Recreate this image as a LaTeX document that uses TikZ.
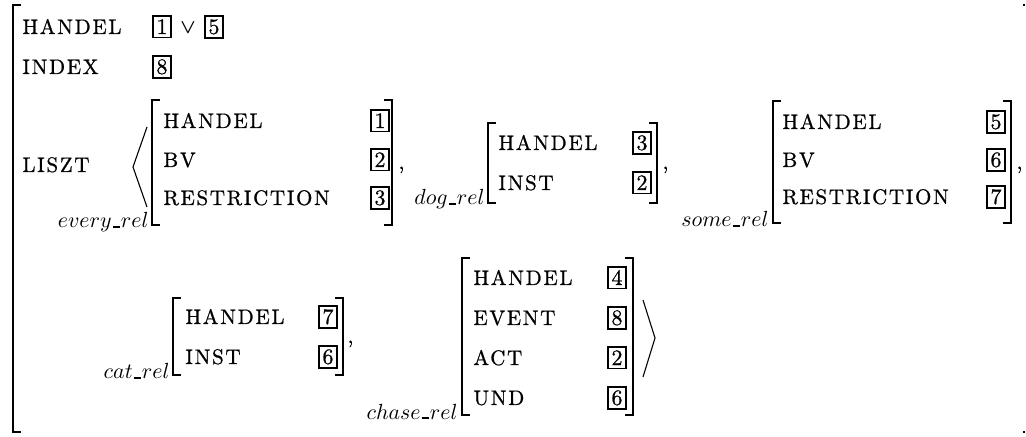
\documentclass[tikz,border=0pt]{standalone}
\usepackage{fontspec}
\newfontfamily\attrfont{lmroman10-regular.otf}[Scale=1.05, LetterSpace=8, FakeBold=0.8]
\newfontfamily\tagfont{lmroman10-regular.otf}[Scale=1.1, FakeBold=0.8]
\usepackage{amsmath}
\newcommand\undash{\mbox{\kern.05em\rule{.32em}{.9pt}\kern.05em}}
\begin{document}
\begin{tikzpicture}[x=.5pt, y=-.5pt,
  attr/.style={anchor=base west, inner sep=0, font=\attrfont},
  tag/.style={draw, line width=.85pt, anchor=base, inner sep=1.7pt, font=\tagfont},
  rel/.style={anchor=base east, inner sep=0, font=\fontsize{11}{13}\selectfont},
  punct/.style={anchor=base west, inner sep=0, font=\tagfont},
  brk/.style={line width=.9pt},
  ang/.style={line width=.55pt}]
\useasboundingbox (0,0) rectangle (1026,437);
\draw[brk] (21,5) -| (13,432) -- ++(8,0);
\fill (1023,4) rectangle (1025,6);
\fill (1023,431) rectangle (1025,433);
\node[attr] (handel) at (22,34) {HANDEL};
\node[tag] (t1) at (162,34) {1};
\node[punct, anchor=base] (or) at (188,34) {$\boldsymbol{\vee}$};
\node[tag] (t5) at (214,34) {5};
\node[attr] (index) at (22,74) {INDEX};
\node[tag] (t8) at (162,74) {8};
\node[attr] (liszt) at (22,172) {LISZT};
\draw[ang] (147,127) -- (133,167) -- (147,207);
\draw[ang] (643,300) -- (655,338) -- (643,377);
\foreach \l/\r/\t/\b in {152/392/100/225, 488/657/123/203, 773/1011/101/223, 173/343/298/375, 462/633/258/415} {
  \draw[brk] (\l+8,\t) -| (\l,\b) -- ++(8,0);
  \draw[brk] (\r-8,\t) -| (\r,\b) -- ++(-8,0);
}
\node[rel] (every) at (149,228) {$every\undash rel$};
\node[rel] (dog) at (485,205) {$dog\undash rel$};
\node[rel] (some) at (769,227) {$some\undash rel$};
\node[rel] (cat) at (170,379) {$cat\undash rel$};
\node[rel] (chase) at (458,419) {$chase\undash rel$};
\foreach \n/\x/\y/\a/\tx/\v in {
  everyH/163/128/HANDEL/380/1, everyB/163/167/BV/380/2, everyR/163/205/RESTRICTION/380/3,
  dogH/498/150/HANDEL/642/3, dogI/498/190/INST/642/2,
  someH/782/129/HANDEL/996/5, someB/782/167/BV/996/6, someR/782/204/RESTRICTION/996/7,
  catH/185/324/HANDEL/328/7, catI/185/364/INST/328/6,
  chaseH/473/285/HANDEL/617/4, chaseE/473/325/EVENT/617/8, chaseA/473/365/ACT/617/2, chaseU/473/405/UND/617/6} {
  \node[attr] (\n) at (\x,\y) {\a};
  \node[tag] (\n v) at (\tx,\y) {\v};
}
\node[punct] (c1) at (398,169) {,};
\node[punct] (c2) at (662,169) {,};
\node[punct] (c3) at (1016,169) {,};
\node[punct] (c4) at (347,343) {,};
\end{tikzpicture}
\end{document}
